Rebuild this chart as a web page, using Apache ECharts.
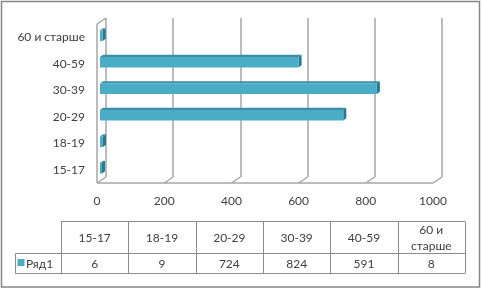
<!DOCTYPE html>
<html><head><meta charset="utf-8">
<script src="https://cdn.jsdelivr.net/npm/echarts@6/dist/echarts.min.js"></script>
<style>html,body{margin:0;padding:0;background:#fff}#c{width:482px;height:290px}</style>
</head><body><div id="c"></div>
<script>
const categories = ['15-17', '18-19', '20-29', '30-39', '40-59', '60 и старше'];
const tableHeaders = ['15-17', '18-19', '20-29', '30-39', '40-59', '60 и\nстарше'];
const seriesName = 'Ряд1';
const values = [6, 9, 724, 824, 591, 8];
const xTicks = [0, 200, 400, 600, 800, 1000];

const FONT = 'Lato';
const TXT = '#404040';
const GRIDC = '#a6a6a6';
const DX = 9, DY = -6;           // full depth of the 3D box
const F = [3, -1.5], B = [6, -3.8]; // bar front / back depth offsets
const chart = echarts.init(document.getElementById('c'), null, {renderer: 'canvas'});

// table layout
const tL = 61, colW = 67.33, tTop = 221.5, tMid = 253.5, tBot = 273.5, legL = 15.5;
const g = [];
g.push({type: 'rect', shape: {x: 1.5, y: 1.5, width: 478, height: 285.5}, style: {fill: 'none', stroke: '#868686', lineWidth: 1.5}, silent: true});
const tl = (x1, y1, x2, y2) => g.push({type: 'line', shape: {x1, y1, x2, y2}, style: {stroke: '#8c8c8c', lineWidth: 1}, silent: true});
const tR = tL + colW * categories.length;
tl(tL, tTop, tR, tTop);
tl(legL, tMid, tR, tMid);
tl(legL, tBot, tR, tBot);
tl(legL, tMid, legL, tBot);
for (let i = 0; i <= categories.length; i++) {
  const x = Math.round(tL + colW * i) + 0.5;
  tl(x, tTop, x, tBot);
}
tableHeaders.forEach((h, i) => {
  g.push({type: 'text', x: tL + colW * (i + 0.5), y: (tTop + tMid) / 2 + 0.5, style: {text: h, fill: TXT, font: '12px ' + FONT, align: 'center', verticalAlign: 'middle', lineHeight: 16}, silent: true});
});
values.forEach((v, i) => {
  g.push({type: 'text', x: tL + colW * (i + 0.5), y: (tMid + tBot) / 2 + 0.5, style: {text: String(v), fill: TXT, font: '12px ' + FONT, align: 'center', verticalAlign: 'middle'}, silent: true});
});
g.push({type: 'rect', shape: {x: 17.5, y: 259, width: 7, height: 7}, style: {fill: '#4BACC6'}, silent: true});
g.push({type: 'text', x: 26, y: (tMid + tBot) / 2 + 0.5, style: {text: seriesName, fill: TXT, font: '12px ' + FONT, align: 'left', verticalAlign: 'middle'}, silent: true});

const option = {
  animation: false,
  backgroundColor: '#fff',
  grid: [
    {left: 106, top: 18, right: 40, bottom: 113},
    {left: 97, top: 24, right: 49, bottom: 107}
  ],
  xAxis: [
    {gridIndex: 0, type: 'value', min: 0, max: 1000, interval: 200,
     axisLine: {show: false}, axisTick: {show: false}, axisLabel: {show: false},
     splitLine: {show: true, lineStyle: {color: GRIDC, width: 1.5}}},
    {gridIndex: 1, type: 'value', min: 0, max: 1000, interval: 200,
     axisLine: {show: false}, axisTick: {show: false}, splitLine: {show: false},
     axisLabel: {margin: 12, color: TXT, fontFamily: FONT, fontSize: 12, formatter: v => String(v)}}
  ],
  yAxis: [
    {gridIndex: 0, type: 'category', data: categories, show: false},
    {gridIndex: 1, type: 'category', data: categories,
     axisLine: {show: false}, axisTick: {show: false}, splitLine: {show: false},
     axisLabel: {margin: 12, color: TXT, fontFamily: FONT, fontSize: 12}}
  ],
  series: [
    {
      type: 'custom', name: 'box', xAxisIndex: 1, yAxisIndex: 1, silent: true, z: 1,
      data: xTicks.map(v => [v]),
      renderItem(params, api) {
        const cs = params.coordSys;
        const bot = cs.y + cs.height;
        const x = api.coord([api.value(0), 0])[0];
        const st = {stroke: GRIDC, lineWidth: 1.5, fill: null};
        const ch = [{type: 'line', shape: {x1: x, y1: bot, x2: x + DX, y2: bot + DY}, style: st}];
        if (params.dataIndex === 0) {
          ch.push({type: 'line', shape: {x1: cs.x, y1: bot, x2: cs.x + cs.width, y2: bot}, style: st});
          ch.push({type: 'line', shape: {x1: cs.x, y1: cs.y, x2: cs.x, y2: bot}, style: st});
          ch.push({type: 'line', shape: {x1: cs.x, y1: cs.y, x2: cs.x + DX, y2: cs.y + DY}, style: st});
        }
        return {type: 'group', children: ch};
      }
    },
    {
      type: 'custom', name: seriesName, xAxisIndex: 1, yAxisIndex: 1, z: 5,
      data: values.map((v, i) => [v, i]),
      renderItem(params, api) {
        const v = api.value(0), c = api.value(1);
        const p0 = api.coord([0, c]), p1 = api.coord([v, c]);
        const h = api.size([0, 1])[1] * 0.4;
        const yT = p0[1] - h / 2, yB = p0[1] + h / 2;
        const x0 = p0[0], x1 = Math.max(p1[0], x0 + 1.5);
        return {type: 'group', children: [
          {type: 'polygon', shape: {points: [[x0 + F[0], yT + F[1]], [x1 + F[0], yT + F[1]], [x1 + B[0], yT + B[1]], [x0 + B[0], yT + B[1]]]}, style: {fill: '#3A8FA7'}},
          {type: 'polygon', shape: {points: [[x1 + F[0], yT + F[1]], [x1 + B[0], yT + B[1]], [x1 + B[0], yB + B[1]], [x1 + F[0], yB + F[1]]]}, style: {fill: '#2D7589'}},
          {type: 'rect', shape: {x: x0 + F[0], y: yT + F[1], width: x1 - x0, height: h}, style: {fill: '#4BACC6'}}
        ]};
      }
    }
  ],
  graphic: g
};
chart.setOption(option);
</script>
</body></html>
